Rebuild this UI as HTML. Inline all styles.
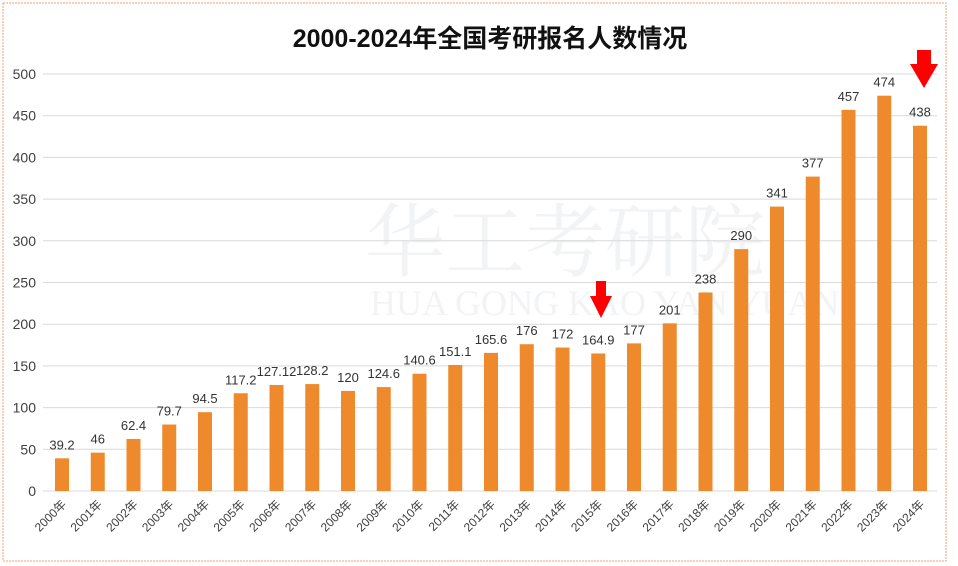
<!DOCTYPE html>
<html><head><meta charset="utf-8"><style>
body{margin:0;background:#fff}
svg{display:block}
</style></head><body>
<svg width="958" height="566" xmlns="http://www.w3.org/2000/svg" font-family="Liberation Sans, Noto Sans CJK SC, sans-serif">
<rect x="0" y="0" width="958" height="566" fill="#fff"/>
<rect x="3" y="3" width="943" height="558" fill="none" stroke="#f0a070" stroke-width="1" stroke-dasharray="2,1"/>
<text x="490" y="47" text-anchor="middle" font-size="25" font-weight="bold" fill="#111" font-family="Liberation Sans, Noto Sans CJK SC, sans-serif">2000-2024年全国考研报名人数情况</text>
<g fill="#eef2f6" opacity="0.9"><text x="365" y="270" font-size="80" font-family="Noto Serif CJK SC, serif" fill="#f0f2f5">华工考研院</text>
<text x="370" y="315" font-size="36" font-family="Liberation Serif, serif" fill="#f0f2f5">HUA GONG KAO YAN YUAN</text></g>
<g id="grid" stroke="#d9d9d9" stroke-width="1"></g>
<g id="bars"></g>
<path d="M910 64 L917 64 L917 50 L931 50 L931 64 L938 64 L924 88 Z" fill="#f00"/>
<path d="M590 296 L596 296 L596 281 L606 281 L606 296 L612 296 L601 318 Z" fill="#f00"/>
<script>
var vals=[39.2,46,62.4,79.7,94.5,117.2,127.12,128.2,120,124.6,140.6,151.1,165.6,176,172,164.9,177,201,238,290,341,377,457,474,438];
var ns="http://www.w3.org/2000/svg",svg=document.querySelector('svg'),g=document.getElementById('grid'),b=document.getElementById('bars');
function el(t,a,p,txt){var e=document.createElementNS(ns,t);for(var k in a)e.setAttribute(k,a[k]);if(txt!==undefined)e.textContent=txt;(p||svg).appendChild(e);return e;}
var y0=491,s=(491-74)/500;
for(var v=0;v<=500;v+=50){var y=y0-v*s;el('line',{x1:43,x2:937,y1:y,y2:y},g);el('text',{x:36,y:y+5,'text-anchor':'end','font-size':14,fill:'#404040'},svg,v);}
for(var i=0;i<25;i++){var cx=62+i*35.75,h=vals[i]*s;
el('rect',{x:cx-7,y:y0-h,width:14,height:h,fill:'#ee8a2b'},b);
el('text',{x:cx,y:y0-h-9,'text-anchor':'middle','font-size':13,fill:'#333'},svg,vals[i]);
el('text',{x:0,y:0,'text-anchor':'end','font-size':12,fill:'#404040',transform:'translate('+(cx+5)+','+(y0+14)+') rotate(-45)'},svg,(2000+i)+'年');}
</script>
</svg>
</body></html>
